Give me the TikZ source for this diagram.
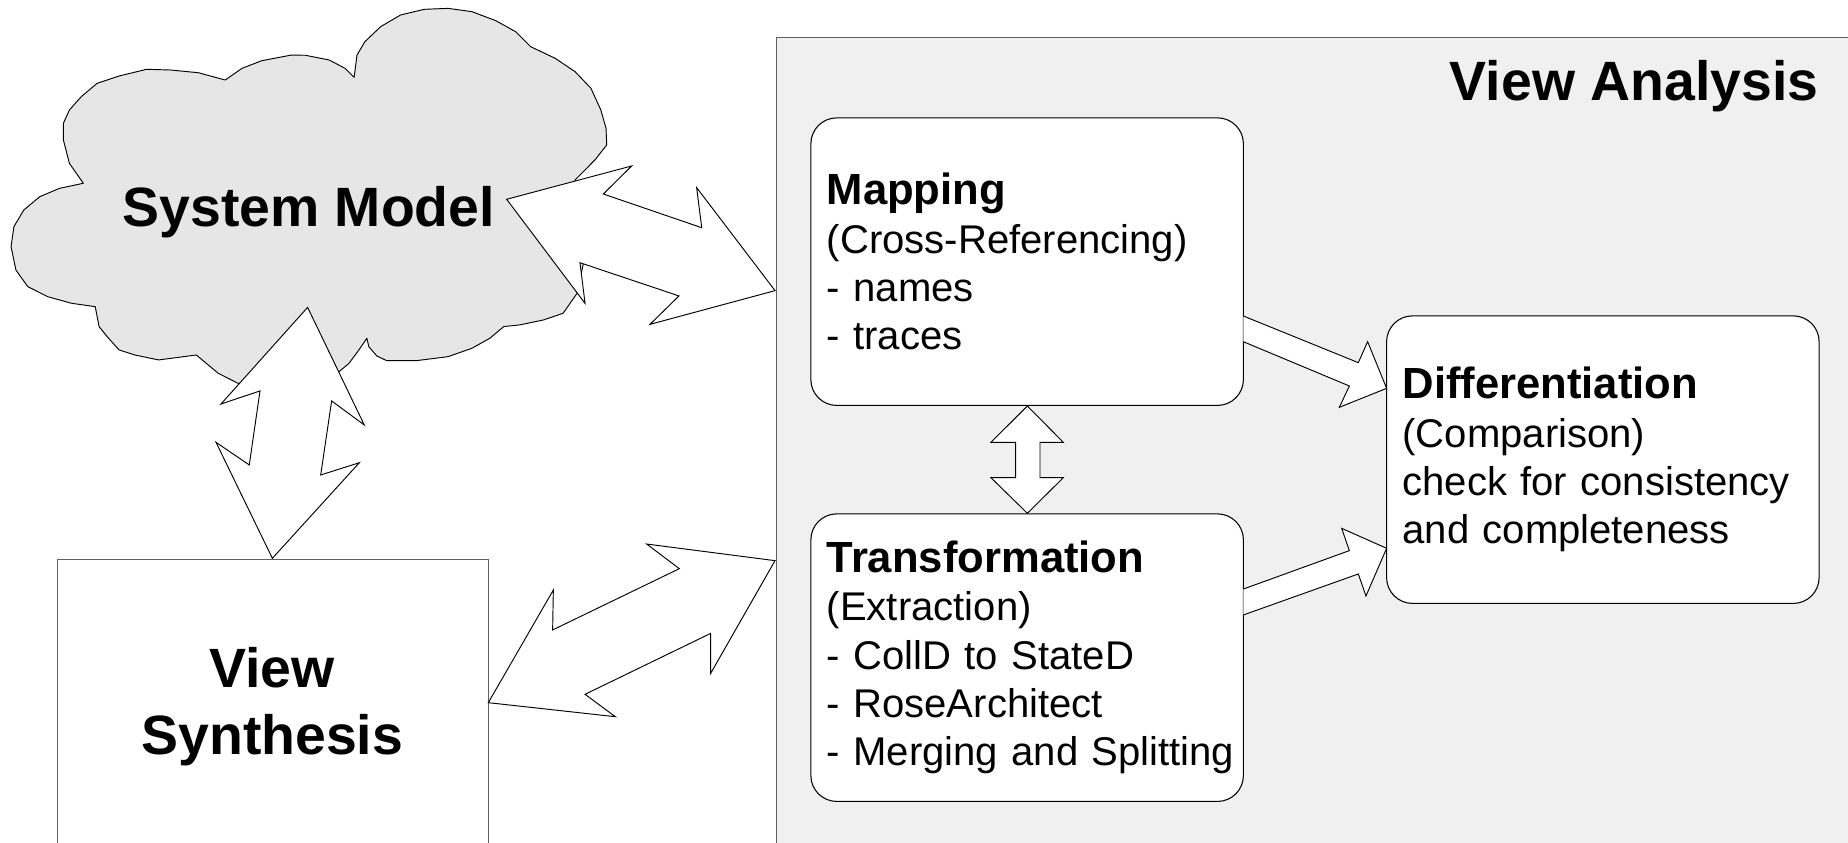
\documentclass[tikz,border=0pt]{standalone}
\usepackage{fontspec}
\setmainfont{Liberation Sans}
\definecolor{cloudgray}{HTML}{E6E6E6}
\definecolor{panelgray}{HTML}{F0F0F0}
\definecolor{edgegray}{HTML}{606060}
\hfuzz=20pt
\begin{document}
\begin{tikzpicture}[x=1pt,y=-1pt,
  blockarrow/.style={draw=black, fill=white, line width=0.8pt, line join=miter},
  rbox/.style={draw=black, fill=white, rounded corners=22pt, line width=0.9pt,
    minimum width=367pt, minimum height=244pt, text width=340pt, inner xsep=13.5pt,
    align=left, font=\fontsize{34}{41}\selectfont},
  bigtitle/.style={font=\fontsize{47}{57}\selectfont\bfseries, inner sep=0pt}
]
\clip (0,0) rectangle (1568,715);
\fill[white] (0,0) rectangle (1568,715);

% View Analysis panel
\node[draw=edgegray, fill=panelgray, line width=0.9pt, anchor=north west,
  minimum width=930pt, minimum height=720pt, inner sep=0pt] (panel) at (658,31) {};
\node[bigtitle, anchor=base east] (vatitle) at (1543,85) {View Analysis};

% Cloud
\draw[fill=cloudgray, draw=black, line width=0.8pt, line join=round]
 (70.7,155.5) -- (58.9,138.6) -- (53.8,118.8) -- (53.8,104.6) -- (58.9,93.3) -- (69.0,82.0)
 -- (82.4,70.7) -- (101,64.5) -- (124.5,58.8) -- (144.7,59.4) -- (168.3,61.7) -- (191.1,67.9)
 -- (205.3,58.0) -- (222.1,51.5) -- (247.3,46.7) -- (259.1,46.9) -- (279.3,50.9) -- (292.8,58.0)
 -- (300.5,65.6) -- (302.9,46.7) -- (309.6,35.4) -- (323.0,22.6) -- (339.9,12.7) -- (360.1,7.9)
 -- (380.2,7.1) -- (400.4,9.9) -- (420.6,17.5) -- (437.5,26.9) -- (450.2,39.6) -- (471.1,49.5)
 -- (487.9,60.8) -- (501.4,74.9) -- (509.8,93.3) -- (514.2,108.9) -- (514.8,123.0) -- (504.8,135.7)
 -- (487.9,152.7) -- (500,200) -- (489.6,248.9) -- (477.8,265.8) -- (461.0,271.5) -- (440.8,275.7)
 -- (427.4,277.1) -- (415.6,287.0) -- (400.4,295.5) -- (380.2,302.6) -- (353.3,306.0) -- (328.1,306.0)
 -- (319.7,302.0) -- (312.9,294.1) -- (311.3,287.0) -- (304.5,296.9) -- (296.1,308.3) -- (287.7,315.3)
 -- (255.7,330.9) -- (201.9,325.2) -- (185.1,316.7) -- (166.6,301.2) -- (134.6,305.4) -- (114.4,301.2)
 -- (101,296.9) -- (90.9,285.6) -- (84.1,277.1) -- (80.8,260.2) -- (60.6,257.3) -- (40.4,251.7)
 -- (23.6,243.2) -- (13.5,229.1) -- (9.4,209.3) -- (11.8,192.3) -- (20.2,178.2) -- (33.7,166.9)
 -- (50.5,159.8) -- cycle;
\node[bigtitle, anchor=base] (sysmodel) at (262,192) {System Model};

% View Synthesis
\node[draw=edgegray, fill=white, line width=0.9pt, anchor=north west,
  minimum width=366pt, minimum height=300pt, inner sep=0pt] (vsbox) at (48,474) {};
\node[bigtitle, anchor=base, align=center, text width=340pt] (vstext) at (231,583) {View\\Synthesis};

% Analysis boxes
\node[rbox] (map) at (871.5,222) {{\fontsize{37}{41}\selectfont\bfseries Mapping}\\(Cross-Referencing)\\- names\\- traces};
\node[rbox] (trans) at (871.5,558) {{\fontsize{37}{41}\selectfont\bfseries Transformation}\\(Extraction)\\- CollD to StateD\\- RoseArchitect\\\mbox{- Merging and Splitting}};
\node[rbox] (diff) at (1360,390) {{\fontsize{37}{41}\selectfont\bfseries Differentiation}\\(Comparison)\\\mbox{check for consistency}\\and completeness};

% Block arrows
% System Model <-> Mapping
\draw[blockarrow] (429.9,169.1) -- (536.0,140.8) -- (511.9,164.6) -- (595.4,193.2) -- (591.1,159.2)
  -- (657.6,246.6) -- (551.5,275.2) -- (576.1,251.1) -- (492.1,222.9) -- (496.4,257.4) -- cycle;
% View Synthesis <-> Transformation
\draw[blockarrow] (657.6,475.7) -- (548.7,461.6) -- (576.4,482.5) -- (468.9,534.5) -- (469.5,500.6)
  -- (414.3,596.2) -- (522.1,608.1) -- (496.4,589.1) -- (603.0,537.4) -- (603.0,571.3) -- cycle;
% System Model <-> View Synthesis
\draw[blockarrow] (261.0,260.8) -- (309.1,360.6) -- (281.4,340.2) -- (272.1,403.0) -- (304.9,392.6)
  -- (231.1,473.7) -- (183.3,375.3) -- (211.5,394.5) -- (220.6,331.7) -- (187.5,342.8) -- cycle;
% Mapping <-> Transformation
\draw[blockarrow] (871.7,344.5) -- (902.2,375.3) -- (882.4,375.3) -- (882.4,405.3) -- (902.2,405.3)
  -- (871.7,435.5) -- (840.8,405.3) -- (861.8,405.3) -- (861.8,375.3) -- (840.8,375.3) -- cycle;
% Mapping -> Differentiation
\draw[blockarrow] (1054.9,268.1) -- (1152.5,307.7) -- (1160.4,289.9) -- (1176.5,329.5)
  -- (1136.4,345.6) -- (1144.9,327.5) -- (1054.9,289.9);
% Transformation -> Differentiation
\draw[blockarrow] (1054.9,499.8) -- (1144.9,467.2) -- (1138.4,448.3) -- (1176.5,465.2)
  -- (1159.0,505.7) -- (1152.5,487.0) -- (1054.9,521.8);
\end{tikzpicture}
\end{document}
